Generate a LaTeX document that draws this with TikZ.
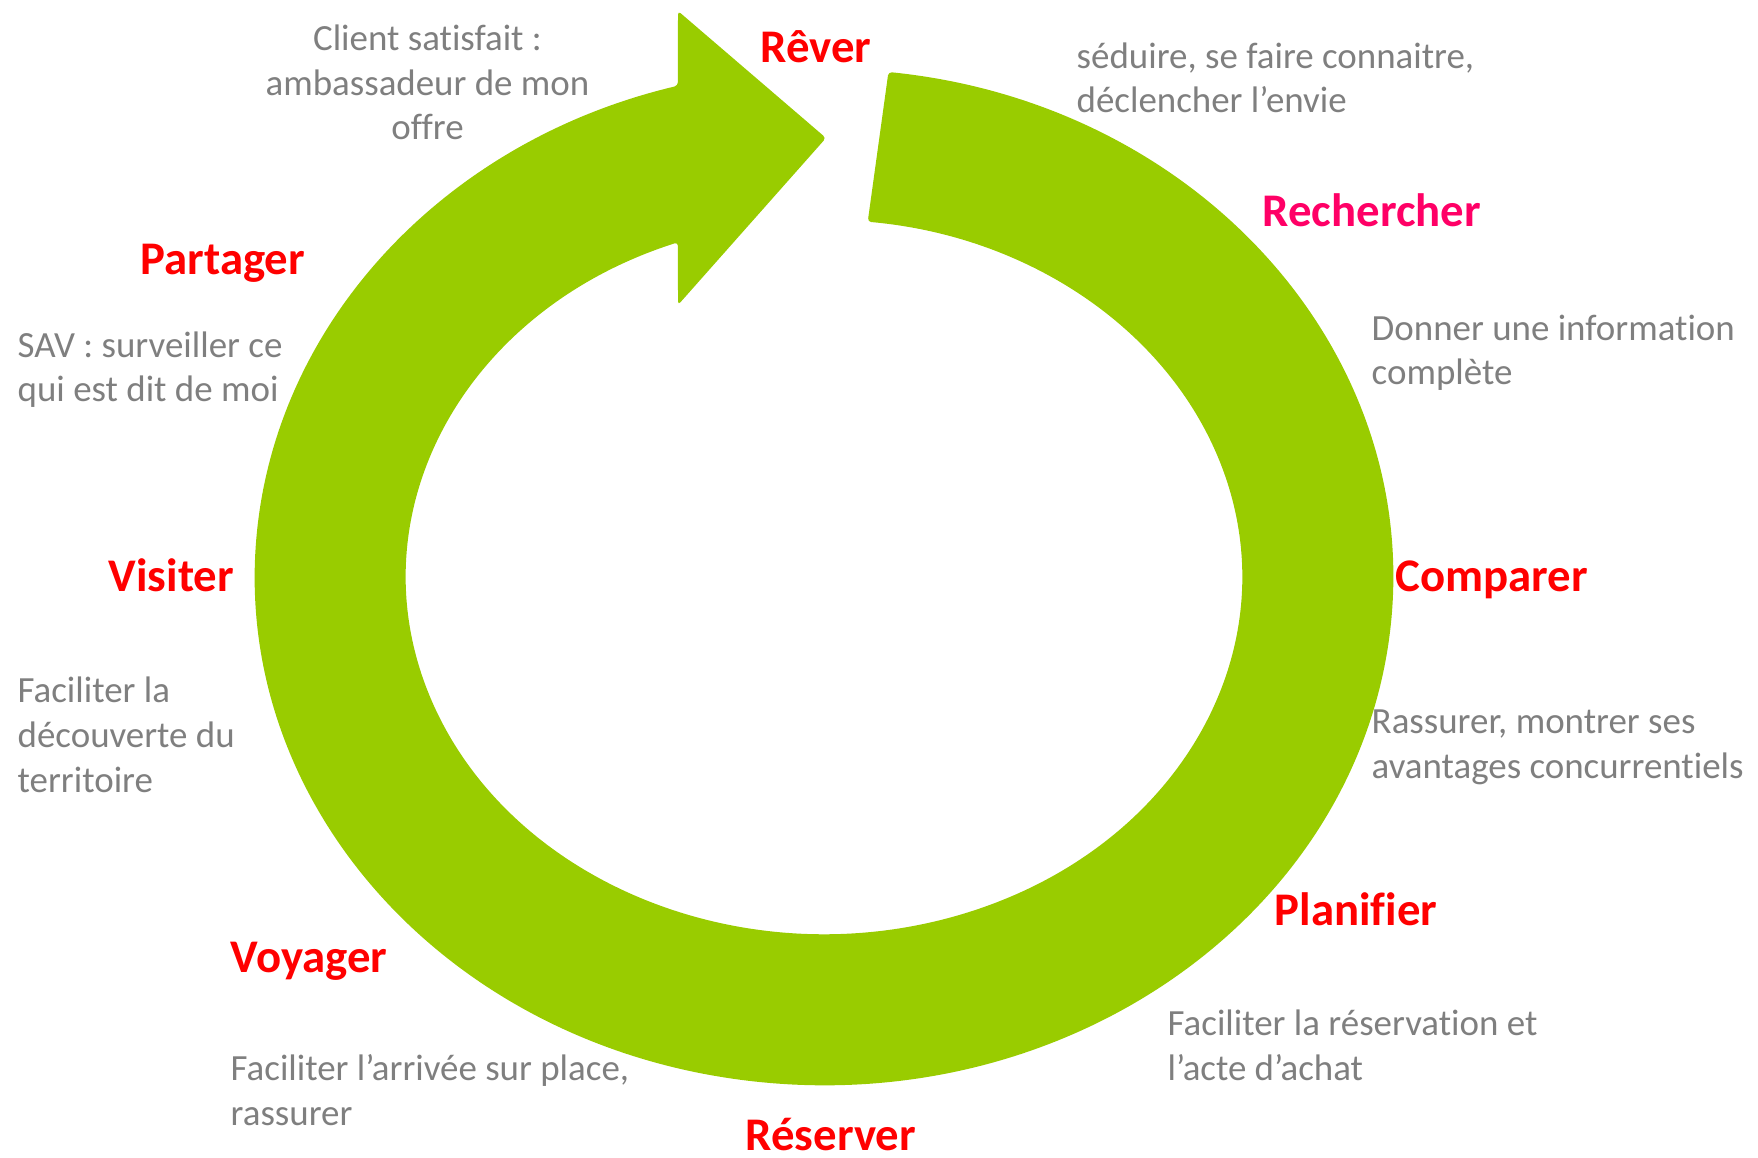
\documentclass[tikz,border=0pt]{standalone}
\usepackage{fontspec}
\setmainfont{Carlito}[Ligatures = NoCommon]
\usetikzlibrary{positioning}

\definecolor{ringgreen}{HTML}{99CC00}
\definecolor{stepred}{HTML}{FF0000}
\definecolor{steppink}{HTML}{FF0066}
\definecolor{notegrey}{HTML}{7F7F7F}

\begin{document}
\begin{tikzpicture}[x = 0.01cm, y = 0.01cm,
	steplabel/.style = {anchor = base west, inner sep = 0pt, text = stepred, font = \fontsize{13.3}{16}\selectfont\bfseries},
	note/.style = {anchor = base west, inner sep = 0pt, align = left, text = notegrey, font = \fontsize{10.5}{12.7}\selectfont}]
	\useasboundingbox (0, 0) rectangle (1758, 1157);
	\coordinate (ctr) at (824, 580);
	\fill [ringgreen, rounded corners = 1pt] ([shift = {(83.5:5.69cm and 5.08cm)}]ctr)
		arc [start angle = 83.5, end angle = -255.13, x radius = 5.69cm, y radius = 5.08cm]
		-- (678, 1146) -- (826, 1019) -- (678, 852)
		-- ([shift = {(-249.56:4.18cm and 3.57cm)}]ctr)
		arc [start angle = -249.56, end angle = 84, x radius = 4.18cm, y radius = 3.57cm]
		-- cycle;
	\node [steplabel] (rever) at (760, 1094) {Rêver};
	\node [steplabel, text = steppink] (rechercher) at (1262, 930) {Rechercher};
	\node [steplabel] (comparer) at (1395, 565) {Comparer};
	\node [steplabel] (planifier) at (1274, 232) {Planifier};
	\node [steplabel] (reserver) at (745, 7) {Réserver};
	\node [steplabel] (voyager) at (230, 185) {Voyager};
	\node [steplabel] (visiter) at (108, 565) {Visiter};
	\node [steplabel] (partager) at (140, 882) {Partager};
	\node [note, anchor = base, align = center] (noteclient) at (427.5, 1017) {Client satisfait :\\ambassadeur de mon\\offre};
	\node [note] (noterever) at (1076, 1044) {séduire, se faire connaitre,\\déclencher l’envie};
	\node [note] (noterechercher) at (1371, 772) {Donner une information\\complète};
	\node [note] (notecomparer) at (1371, 379) {Rassurer, montrer ses\\avantages concurrentiels};
	\node [note] (noteplanifier) at (1167, 77) {Faciliter la réservation et\\l’acte d’achat};
	\node [note] (notevoyager) at (230, 32) {Faciliter l’arrivée sur place,\\rassurer};
	\node [note] (notevisiter) at (17, 365) {Faciliter la\\découverte du\\territoire};
	\node [note] (notepartager) at (17, 755) {SAV : surveiller ce\\qui est dit de moi};
\end{tikzpicture}
\end{document}
